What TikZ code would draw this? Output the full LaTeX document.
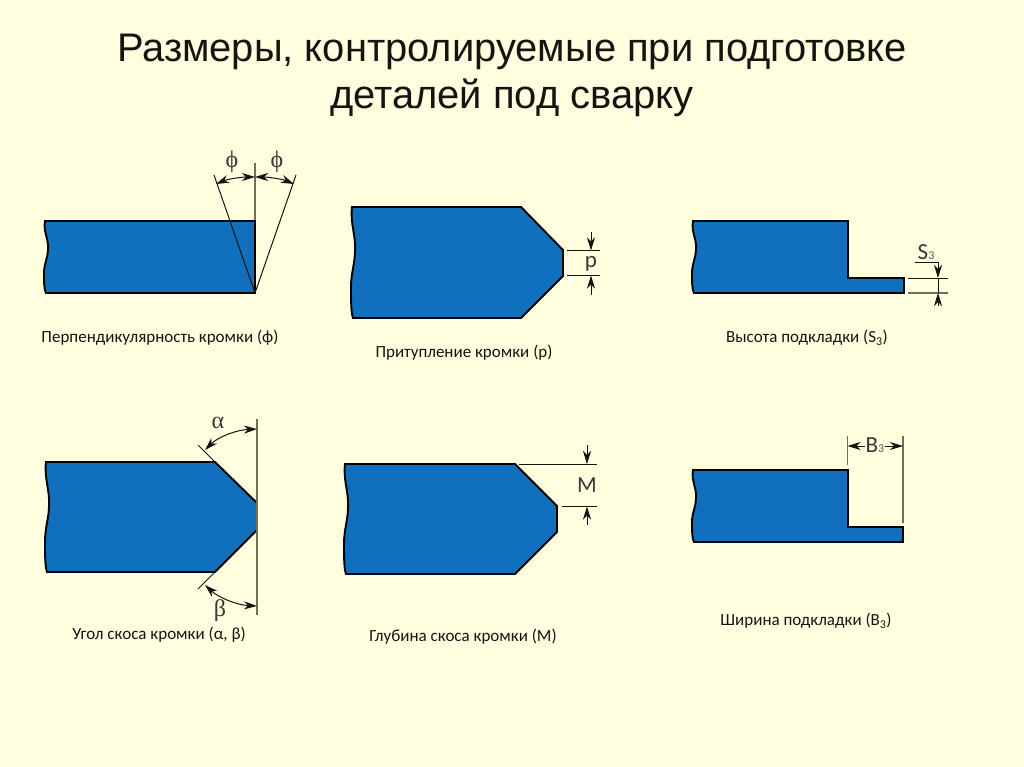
\documentclass[tikz,border=0pt]{standalone}
\usepackage{fontspec}
\setmainfont{Liberation Sans}
\newfontfamily\labelfont{Carlito}
\newfontfamily\greekfont{Liberation Serif}
\usetikzlibrary{arrows.meta}
\definecolor{paper}{HTML}{FFFFE0}
\definecolor{steel}{HTML}{1170BD}
\definecolor{ink}{HTML}{141410}
\definecolor{dimgrey}{HTML}{6E6E5A}
\newcommand\smallidx[1]{\raisebox{-0.5pt}{\fontsize{12}{12}\selectfont\color{ink!70}#1}}
\tikzset{
  x=1pt,y=-1pt,
  stockshape/.style={fill=steel,draw=black,line width=1.9pt,line join=miter},
  dimline/.style={draw=ink,line width=1pt},
  guideline/.style={draw=dimgrey,line width=1.5pt},
  dimhead/.style={-{Stealth[length=13pt,width=8pt,inset=4pt]},draw=ink,line width=1pt},
  bothhead/.style={{Stealth[length=13pt,width=8pt,inset=4pt]}-{Stealth[length=13pt,width=8pt,inset=4pt]},draw=ink,line width=1pt},
  titletext/.style={font=\fontsize{39.9}{39.9}\selectfont,text=ink,inner sep=0pt},
  caption/.style={font=\labelfont\fontsize{17}{17}\selectfont,text=ink,inner sep=0pt},
  dimtext/.style={font=\labelfont\fontsize{23}{23}\selectfont,text=ink!85,inner sep=0pt},
  greektext/.style={font=\greekfont\fontsize{24}{24}\selectfont,text=ink!85,inner sep=0pt},
}
\newcommand\stockbar[4]{% x, top, bottom, right outline from bottom to top
  \filldraw[stockshape] (#1,#2)
    .. controls ({#1-2},{#2+0.15*(#3-#2)}) and ({#1+4},{#2+0.25*(#3-#2)}) .. ({#1+3},{#2+0.4*(#3-#2)})
    .. controls ({#1+3},{#2+0.5*(#3-#2)}) and ({#1-1},{#2+0.6*(#3-#2)}) .. ({#1-1},{#2+0.72*(#3-#2)})
    .. controls ({#1-1},{#2+0.85*(#3-#2)}) and ({#1-1},{#2+0.95*(#3-#2)}) .. ({#1+1},#3)
    #4 -- cycle;}
\begin{document}
\begin{tikzpicture}
\fill[paper] (0,0) rectangle (1024,767);
\useasboundingbox (0,0) rectangle (1024,767);

\node[titletext] (title1) at (512,52) {Размеры, контролируемые при подготовке};
\node[titletext] (title2) at (512,98) {деталей под сварку};

% --- panel 1: perpendicularity
\coordinate (p1base) at (255,293);
\coordinate (p1top) at (255,163);
\coordinate (p1left) at (214,175);
\coordinate (p1right) at (296,175);
\coordinate (p1mid) at (255,177);
\coordinate (p1la) at (216,184);
\coordinate (p1ra) at (294,184);
\draw[guideline] (p1base) -- (p1top);
\stockbar{45}{221}{293}{-- (255,293) -- (255,221)}
\draw[dimline] (p1base) -- (p1left);
\draw[dimline] (p1base) -- (p1right);
\draw[bothhead] (p1la) .. controls (228,179) and (242,177) .. (p1mid);
\draw[bothhead] (p1ra) .. controls (282,179) and (268,177) .. (p1mid);
\node[greektext] (phi1) at (232,162) {ϕ};
\node[greektext] (phi2) at (277,162) {ϕ};
\node[caption] (cap1) at (160,338) {Перпендикулярность кромки (ϕ)};

% --- panel 2: root face
\stockbar{352}{207}{318}{-- (521,318) -- (563,276) -- (563,250) -- (521,207)}
\coordinate (p2a) at (567,250.5);
\coordinate (p2b) at (600,250.5);
\coordinate (p2c) at (567,275.5);
\coordinate (p2d) at (600,275.5);
\coordinate (p2t) at (591,232);
\coordinate (p2ta) at (591,250.5);
\coordinate (p2u) at (591,295);
\coordinate (p2ua) at (591,275.5);
\draw[dimline] (p2a) -- (p2b);
\draw[dimline] (p2c) -- (p2d);
\draw[dimhead] (p2t) -- (p2ta);
\draw[dimhead] (p2u) -- (p2ua);
\node[dimtext] (plabel) at (591,264) {р};
\node[caption] (cap2) at (464,353) {Притупление кромки (р)};

% --- panel 3: backing height
\stockbar{693}{221}{293}{-- (904,293) -- (904,278) -- (848,278) -- (848,221)}
\coordinate (p3a) at (908,278);
\coordinate (p3b) at (948,278);
\coordinate (p3c) at (908,293);
\coordinate (p3d) at (948,293);
\coordinate (p3e) at (915,262);
\coordinate (p3f) at (938,262);
\coordinate (p3g) at (938,278);
\coordinate (p3h) at (938,306);
\coordinate (p3i) at (938,293);
\draw[dimline] (p3a) -- (p3b);
\draw[guideline] (p3c) -- (p3d);
\draw[dimline] (p3e) -- (p3f);
\draw[dimline] (p3g) -- (p3i);
\draw[dimhead] (p3f) -- (p3g);
\draw[dimhead] (p3h) -- (p3i);
\node[dimtext] (slabel) at (926,252) {S\smallidx{3}};
\node[caption] (cap3) at (807,338) {Высота подкладки (S\textsubscript{3})};

% --- panel 4: bevel angle
\stockbar{46}{462}{572}{-- (215,572) -- (257,530) -- (257,503) -- (215,462)}
\coordinate (p4a) at (257,419);
\coordinate (p4b) at (257,615);
\coordinate (p4c) at (215,462);
\coordinate (p4d) at (198,445);
\coordinate (p4e) at (215,572);
\coordinate (p4f) at (198,589);
\coordinate (p4g) at (205,450);
\coordinate (p4h) at (257,429);
\coordinate (p4i) at (205,585);
\coordinate (p4j) at (257,606);
\draw[guideline] (p4a) -- (p4b);
\draw[dimline] (p4c) -- (p4d);
\draw[dimline] (p4e) -- (p4f);
\draw[bothhead] (p4g) .. controls (218,437) and (236,430) .. (p4h);
\draw[bothhead] (p4i) .. controls (218,597) and (236,605) .. (p4j);
\node[greektext] (alpha) at (218,423) {α};
\node[greektext] (beta) at (220,611) {β};
\node[caption] (cap4) at (159,635) {Угол скоса кромки (α, β)};

% --- panel 5: bevel depth
\stockbar{345}{464}{574}{-- (515,574) -- (557,532) -- (557,506) -- (515,464)}
\coordinate (p5a) at (519,464);
\coordinate (p5b) at (597,464);
\coordinate (p5c) at (562,506.5);
\coordinate (p5d) at (597,506.5);
\coordinate (p5t) at (587,445);
\coordinate (p5ta) at (587,464);
\coordinate (p5u) at (587,525);
\coordinate (p5ua) at (587,506.5);
\draw[dimline] (p5a) -- (p5b);
\draw[dimline] (p5c) -- (p5d);
\draw[dimhead] (p5t) -- (p5ta);
\draw[dimhead] (p5u) -- (p5ua);
\node[dimtext] (mlabel) at (587,485) {М};
\node[caption] (cap5) at (463,637) {Глубина скоса кромки (М)};

% --- panel 6: backing width
\stockbar{693}{470}{542}{-- (903,542) -- (903,527) -- (848,527) -- (848,470)}
\coordinate (p6a) at (847.5,436);
\coordinate (p6b) at (847.5,465);
\coordinate (p6c) at (903,436);
\coordinate (p6d) at (903,523);
\coordinate (p6e) at (865,446);
\coordinate (p6f) at (847.5,446);
\coordinate (p6g) at (885,446);
\coordinate (p6h) at (903,446);
\draw[guideline] (p6a) -- (p6b);
\draw[guideline] (p6c) -- (p6d);
\draw[dimhead] (p6e) -- (p6f);
\draw[dimhead] (p6g) -- (p6h);
\node[dimtext] (blabel) at (875,445) {В\smallidx{3}};
\node[caption] (cap6) at (806,621) {Ширина подкладки (В\textsubscript{3})};
\end{tikzpicture}
\end{document}
